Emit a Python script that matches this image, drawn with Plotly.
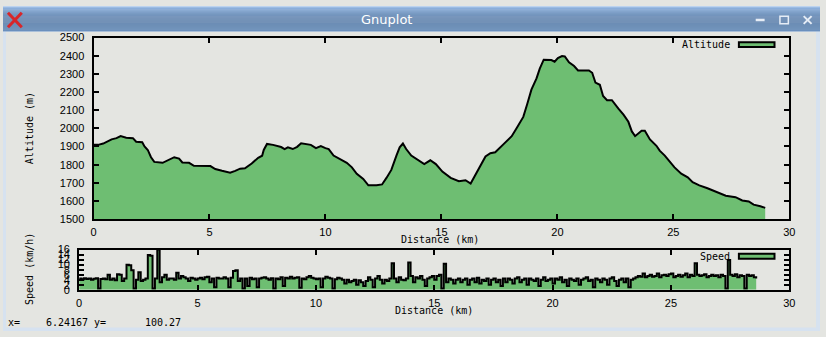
import plotly.graph_objects as go

# ---------------- data ----------------
distance_km = [0.00, 0.20, 0.42, 0.56, 0.78, 0.99, 1.17, 1.41, 1.70, 1.84, 2.10, 2.20, 2.34, 2.48, 2.62,
               2.98, 3.19, 3.48, 3.69, 3.83, 4.12, 4.33, 5.04, 5.25, 5.54, 5.89, 6.11, 6.32, 6.53, 6.82,
               7.10, 7.27, 7.34, 7.48, 7.74, 8.09, 8.24, 8.38, 8.59, 8.78, 8.95, 9.23, 9.37, 9.59, 9.80,
               10.00, 10.14, 10.35, 10.64, 10.92, 11.14, 11.35, 11.63, 11.85, 12.20, 12.44, 12.63, 12.84,
               13.06, 13.20, 13.34, 13.48, 13.70, 13.98, 14.26, 14.52, 14.76, 15.04, 15.40, 15.75, 16.04,
               16.26, 16.47, 16.68, 16.90, 17.11, 17.32, 17.68, 18.03, 18.24, 18.53, 18.70, 18.88, 19.10,
               19.24, 19.41, 19.74, 19.88, 20.02, 20.20, 20.32, 20.50, 20.72, 20.89, 21.36, 21.50, 21.64,
               21.83, 21.97, 22.14, 22.35, 22.64, 22.85, 23.06, 23.21, 23.35, 23.63, 23.77, 23.99, 24.27,
               24.41, 24.63, 24.84, 25.05, 25.34, 25.62, 25.83, 26.12, 26.47, 26.83, 27.26, 27.68, 27.97,
               28.25, 28.46, 28.75, 28.96]
altitude_m = [1909, 1909, 1916, 1926, 1939, 1946, 1957, 1948, 1946, 1926, 1923, 1900, 1881, 1841, 1815,
              1810, 1824, 1841, 1833, 1812, 1810, 1794, 1792, 1776, 1766, 1756, 1766, 1778, 1780, 1806,
              1838, 1849, 1881, 1914, 1909, 1897, 1886, 1895, 1886, 1898, 1918, 1913, 1909, 1891, 1902,
              1891, 1886, 1850, 1828, 1810, 1785, 1750, 1721, 1686, 1686, 1691, 1727, 1771,
              1850, 1895, 1916, 1886, 1850, 1824, 1803, 1824, 1803, 1762, 1727, 1709, 1714,
              1696, 1744, 1792, 1845, 1863, 1868, 1913, 1957, 2001, 2063, 2134, 2213, 2275,
              2329, 2378, 2376, 2367, 2387, 2398, 2396, 2364, 2343, 2319, 2319, 2306, 2252,
              2240, 2178, 2155, 2155, 2107, 2075, 2036, 1983, 1957, 1987, 1987, 1939, 1904,
              1877, 1850, 1815, 1785, 1750, 1730, 1703, 1686, 1670, 1652, 1629, 1621, 1603,
              1597, 1580, 1571, 1562]

speed_start_km = 0.0
speed_step_km = 0.1
speed_kmh = [
    4.5, 4.2, 4.6, 4.3, 4.5, 4.0, 4.4, 4.6, 0.5, 4.3,
    4.5, 4.2, 6.0, 4.0, 4.5, 3.8, 6.2, 6.0, 3.5, 4.5,
    10.0, 9.8, 7.8, 0.5, 4.0, 7.0, 3.5, 4.0, 4.5, 13.8,
    13.5, 0.5, 4.5, 16.0, 3.0, 5.0, 6.0, 4.0, 4.5, 4.5,
    4.0, 6.8, 4.5, 5.5, 5.0, 4.5, 3.5, 4.8, 4.5, 4.0,
    4.5, 4.8, 4.2, 5.0, 5.2, 3.0, 4.5, 1.0, 4.8, 4.5,
    4.5, 5.0, 4.5, 1.0, 4.8, 7.5, 7.8, 3.5, 4.5, 0.5,
    4.5, 1.5, 4.8, 4.2, 4.5, 1.0, 4.5, 4.8, 5.0, 4.5,
    4.0, 4.6, 0.5, 4.5, 4.2, 5.0, 1.5, 4.8, 4.5, 5.2,
    4.5, 4.8, 5.0, 0.8, 4.5, 4.2, 5.0, 5.5, 4.8, 4.5,
    4.2, 4.5, 1.0, 4.5, 5.2, 4.8, 4.5, 0.5, 4.2, 4.8,
    4.5, 4.0, 2.5, 4.0, 3.0, 3.5, 4.0, 2.0, 3.8, 3.0,
    1.5, 3.5, 5.0, 4.0, 1.0, 4.5, 5.5, 4.0, 2.5, 4.0,
    3.5, 4.5, 10.5, 4.5, 3.0, 5.0, 4.0, 3.8, 4.5, 10.8,
    5.5, 3.0, 5.0, 4.5, 5.5, 4.0, 1.5, 4.5, 5.0, 5.5,
    4.0, 5.5, 6.0, 0.5, 10.3, 3.0, 4.5, 4.0, 2.5, 4.0,
    4.5, 3.0, 4.0, 4.5, 2.0, 4.0, 4.5, 3.0, 4.8, 2.5,
    4.0, 3.5, 4.5, 2.0, 4.0, 4.5, 3.0, 4.0, 1.5, 4.5,
    3.0, 4.5, 4.0, 2.5, 4.5, 5.0, 3.0, 4.0, 4.5, 2.0,
    4.5, 4.0, 3.5, 4.5, 1.5, 4.0, 5.0, 3.5, 4.0, 4.5,
    2.5, 4.5, 4.0, 5.0, 3.0, 4.0, 1.5, 4.5, 4.0, 3.5,
    4.5, 2.0, 4.0, 4.5, 5.0, 3.5, 4.0, 1.0, 4.5, 4.0,
    3.0, 4.5, 4.0, 2.0, 4.5, 5.0, 3.5, 1.5, 4.0, 4.5,
    3.0, 4.5, 1.0, 4.0, 4.5, 5.0, 5.5, 5.2, 6.5, 5.0,
    5.5, 6.0, 5.2, 5.5, 6.5, 5.0, 5.8, 6.0, 5.5, 6.2,
    6.5, 5.0, 5.5, 6.0, 5.2, 5.8, 6.5, 5.0, 6.0, 5.5,
    10.5, 6.0, 5.5, 5.8, 6.2, 5.0, 5.5, 6.0, 5.5, 5.8,
    5.0, 6.0, 5.5, 0.5, 11.8, 6.0, 5.5, 6.2, 5.0, 5.8,
    5.5, 0.5, 6.0, 5.5, 5.8, 5.0, 4.5,
]

x_ticks_km = [0, 5, 10, 15, 20, 25, 30]
alt_ticks = [1500, 1600, 1700, 1800, 1900, 2000, 2100, 2200, 2300, 2400, 2500]
speed_ticks = [0, 2, 4, 6, 8, 10, 12, 14, 16]

# ---------------- style ----------------
W, H = 826, 337
BG = "#e4e5e1"
GREEN = "#6ebe72"
MONO = "DejaVu Sans Mono"
SANS = "Liberation Sans"


def px(x):
    return x / W


def py(y):
    return 1 - y / H


fig = go.Figure()
fig.add_trace(go.Scatter(x=distance_km, y=altitude_m, mode="lines", fill="tozeroy",
                         fillcolor=GREEN, line=dict(color="black", width=2),
                         name="Altitude", showlegend=False, xaxis="x", yaxis="y"))
fig.add_trace(go.Scatter(x0=speed_start_km, dx=speed_step_km, y=speed_kmh, mode="lines",
                         fill="tozeroy", fillcolor=GREEN, line=dict(color="black", width=2, shape="hv"),
                         name="Speed", showlegend=False, xaxis="x2", yaxis="y2"))

axis_common = dict(showline=True, linewidth=2, linecolor="black", mirror="ticks",
                   ticks="inside", ticklen=5, tickwidth=2, tickcolor="black",
                   showgrid=False, zeroline=False,
                   tickfont=dict(family=SANS, size=11, color="black"))

fig.update_layout(
    width=W, height=H, autosize=False,
    margin=dict(l=0, r=0, t=0, b=0),
    paper_bgcolor=BG, plot_bgcolor=BG,
    xaxis=dict(domain=[px(91.5), px(795)], range=[0, 30], tickvals=x_ticks_km,
               anchor="y", ticklabelstandoff=2, **axis_common),
    yaxis=dict(domain=[py(221), py(32.7)], range=[1500, 2500], tickvals=alt_ticks,
               anchor="x", ticklabelstandoff=5, **axis_common),
    xaxis2=dict(domain=[px(77), px(795)], range=[0, 30], tickvals=x_ticks_km,
                anchor="y2", ticklabelstandoff=2, **axis_common),
    yaxis2=dict(domain=[py(294.3), py(252.5)], range=[0, 16], tickvals=speed_ticks,
                anchor="x2", ticklabelstandoff=5, **axis_common),
)

shapes = []
# title bar gradient
bar_colors = ["#bcd3ef", "#9bbbe2", "#8aaedb", "#7fa5d4", "#779ecf", "#6f97c9", "#6890c3",
              "#638bbe", "#5e86b9", "#5a82b5", "#577fb2", "#547caf", "#527aad", "#5079ab",
              "#4f78aa", "#4e77a9", "#4e77a9", "#4f78aa", "#5079ab", "#517aac", "#527bad",
              "#537cae", "#557eb0", "#5680b2", "#5882b3", "#6a8fbd", "#a9bfd9"]
for i, c in enumerate(bar_colors):
    shapes.append(dict(type="rect", xref="paper", yref="paper", x0=0, x1=1,
                       y0=py(i + 1), y1=py(i), fillcolor=c, line=dict(width=0), layer="above"))
# window borders
border = "#d6e2f0"
shapes += [
    dict(type="rect", xref="paper", yref="paper", x0=0, x1=px(3), y0=0, y1=py(27),
         fillcolor=border, line=dict(width=0), layer="above"),
    dict(type="rect", xref="paper", yref="paper", x0=px(822), x1=1, y0=0, y1=py(27),
         fillcolor=border, line=dict(width=0), layer="above"),
    dict(type="rect", xref="paper", yref="paper", x0=0, x1=1, y0=0, y1=py(333.5),
         fillcolor=border, line=dict(width=0), layer="above"),
]
# window icon (red X)
for (xa, ya, xb, yb) in [(5, 7, 19, 22), (19, 7, 5, 22)]:
    shapes.append(dict(type="line", xref="paper", yref="paper", x0=px(xa), y0=py(ya),
                       x1=px(xb), y1=py(yb), line=dict(color="#d8262a", width=3), layer="above"))
# window buttons
btn = "#e6edf6"
shapes += [
    dict(type="line", xref="paper", yref="paper", x0=px(761), x1=px(770), y0=py(14.5), y1=py(14.5),
         line=dict(color=btn, width=2.5), layer="above"),
    dict(type="rect", xref="paper", yref="paper", x0=px(785.5), x1=px(794), y0=py(18.5), y1=py(10.5),
         line=dict(color=btn, width=1.5), layer="above"),
    dict(type="line", xref="paper", yref="paper", x0=px(809.5), x1=px(817.5), y0=py(10.5), y1=py(18.5),
         line=dict(color=btn, width=2), layer="above"),
    dict(type="line", xref="paper", yref="paper", x0=px(817.5), x1=px(809.5), y0=py(10.5), y1=py(18.5),
         line=dict(color=btn, width=2), layer="above"),
]
# legend keys
for yc in (40, 259.5):
    shapes.append(dict(type="rect", xref="paper", yref="paper", x0=px(744), x1=px(780),
                       y0=py(yc + 2.5), y1=py(yc - 2.5), fillcolor=GREEN,
                       line=dict(color="black", width=2), layer="above"))
fig.update_layout(shapes=shapes)


def ann(text, x, y, xanchor="center", size=10, family=MONO, color="black", angle=0):
    return dict(text=text, x=px(x), y=py(y), xref="paper", yref="paper", showarrow=False,
                xanchor=xanchor, yanchor="middle", textangle=angle,
                font=dict(family=family, size=size, color=color))


annotations = [
    ann("Gnuplot", 388, 14.5, size=13, family="DejaVu Sans", color="white"),
    ann("Altitude (m)", 27, 127, angle=-90),
    ann("Distance (km)", 442, 242),
    ann("Altitude", 737, 40, xanchor="right"),
    ann("Speed (km/h)", 27, 273, angle=-90),
    ann("Distance (km)", 436, 316),
    ann("Speed", 737, 259.5, xanchor="right"),
    ann("x=", 3, 328, xanchor="left"),
    ann("6.24167", 88, 328, xanchor="right"),
    ann("y=", 90, 328, xanchor="left"),
    ann("100.27", 141.5, 328, xanchor="left"),
]
fig.update_layout(annotations=annotations)

fig.write_html("out.html")
